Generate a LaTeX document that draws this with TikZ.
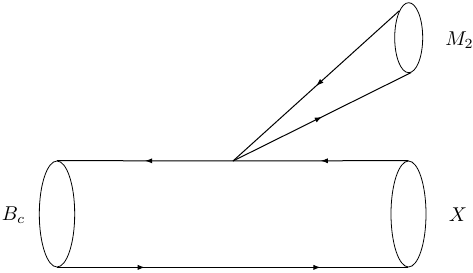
\documentclass[tikz,border=0pt]{standalone}
\usetikzlibrary{arrows.meta,decorations.markings,shapes.geometric}
\begin{document}
\begin{tikzpicture}[x=0.5pt,y=-0.5pt,
  tube/.style={draw, ellipse, inner sep=0pt, line width=0.4pt},
  quark/.style={line width=0.5pt},
  midarrow/.style={postaction={decorate}, decoration={markings,
    mark=at position 0.5 with {\arrow{Latex[length=3.6pt,width=2.6pt]}}}},
  twoarrows/.style={postaction={decorate}, decoration={markings,
    mark=at position 0.25 with {\arrow{Latex[length=3.6pt,width=2.6pt]}},
    mark=at position 0.75 with {\arrow{Latex[length=3.6pt,width=2.6pt]}}}},
  lab/.style={inner sep=0pt}
]
\useasboundingbox (0,0) rectangle (473,273);
\node[tube, minimum width=17.7pt, minimum height=53pt] (Bc) at (57,214) {};
\node[tube, minimum width=17.5pt, minimum height=53pt] (X) at (408.5,214) {};
\node[tube, minimum width=14pt, minimum height=35pt] (M2) at (408.7,37.7) {};
\coordinate (v) at (233,161);
\draw[quark, midarrow] (X.north) -- (v);
\draw[quark, midarrow] (v) -- (Bc.north);
\draw[quark, twoarrows] (Bc.south) -- (X.south);
\draw[quark, midarrow] (M2.109) -- (v);
\draw[quark, midarrow] (v) -- (M2.-86);
\node[lab] (lBc) at (13.5,215) {$B_c$};
\node[lab] (lX) at (458,215) {$X$};
\node[lab] (lM2) at (459.5,40.5) {$M_2$};
\end{tikzpicture}
\end{document}
